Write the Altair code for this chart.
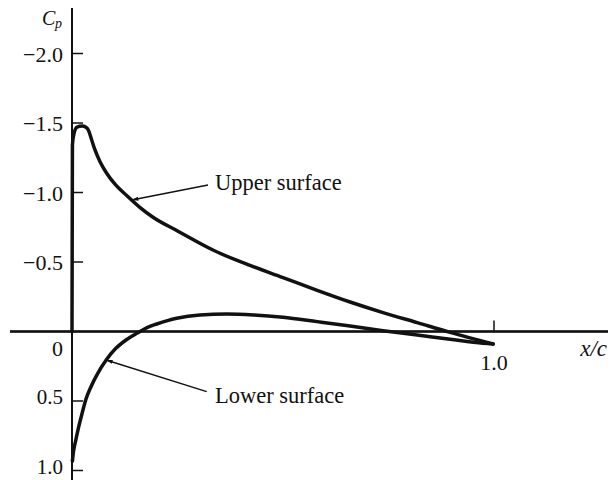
import math
import altair as alt
import pandas as pd

# ---- data ----
upper_x = [0.000, 0.001, 0.005, 0.012, 0.024, 0.033, 0.0386, 0.0467, 0.0545, 0.0664,
           0.0822, 0.1019, 0.1296, 0.160, 0.192, 0.249, 0.334, 0.422, 0.500, 0.581,
           0.659, 0.737, 0.818, 0.896, 0.998]
upper_cp = [0.000, -1.342, -1.428, -1.471, -1.478, -1.470, -1.450, -1.378, -1.306, -1.222,
            -1.139, -1.060, -0.978, -0.895, -0.822, -0.725, -0.586, -0.475, -0.388, -0.296,
            -0.212, -0.136, -0.064, 0.006, 0.090]

lower_x = [0.001, 0.003, 0.009, 0.016, 0.024, 0.033, 0.045, 0.061, 0.081, 0.104,
           0.128, 0.156, 0.179, 0.201, 0.248, 0.303, 0.367, 0.430, 0.500, 0.581,
           0.659, 0.737, 0.818, 0.896, 0.974, 0.998]
lower_cp = [0.932, 0.876, 0.781, 0.685, 0.588, 0.488, 0.397, 0.301, 0.205, 0.121,
            0.061, 0.009, -0.030, -0.054, -0.095, -0.119, -0.126, -0.119, -0.102, -0.071,
            -0.040, -0.006, 0.025, 0.056, 0.085, 0.090]

y_tick_values = [-2.0, -1.5, -1.0, -0.5, 0.5, 1.0]
y_tick_labels = ["\u22122.0", "\u22121.5", "\u22121.0", "\u22120.5", "0.5", "1.0"]
x_tick_values = [1.0]
x_tick_labels = ["1.0"]

arrow_names = ["Upper surface", "Lower surface"]
arrow_x_start = [0.3223, 0.3192]
arrow_cp_start = [-1.054, 0.433]
arrow_x_tip = [0.1415, 0.0806]
arrow_cp_tip = [-0.946, 0.205]

# ---- layout ----
W, H = 600, 472
X0_PX, PX_X = 64, 422.0      # pixel of x/c = 0 inside the plot, px per unit
Y0_PX, PX_Y = 323.5, 139.0   # pixel of Cp = 0 inside the plot, px per unit
X_DOMAIN = [-X0_PX / PX_X, (W - X0_PX) / PX_X]
Y_DOMAIN = [-Y0_PX / PX_Y, (H - Y0_PX) / PX_Y]
FONT = "Liberation Serif"
INK = "#111111"

xs = alt.Scale(domain=X_DOMAIN, nice=False, zero=False)
ys = alt.Scale(domain=Y_DOMAIN, nice=False, zero=False, reverse=True)

curves = pd.DataFrame({
    "x": upper_x + lower_x,
    "cp": upper_cp + lower_cp,
    "surface": ["upper"] * len(upper_x) + ["lower"] * len(lower_x),
    "i": list(range(len(upper_x))) + list(range(len(lower_x))),
})

yt = pd.DataFrame({"v": y_tick_values, "lab": y_tick_labels, "x0": 0.0,
                   "x1": 11 / PX_X})
xt = pd.DataFrame({"v": x_tick_values, "lab": x_tick_labels, "y0": 0.0,
                   "y1": -11 / PX_Y})

angles = [math.degrees(math.atan2(PX_Y * (ct - cs), PX_X * (xt_ - xs_))) % 360
          for xs_, cs, xt_, ct in zip(arrow_x_start, arrow_cp_start, arrow_x_tip, arrow_cp_tip)]
arrows = pd.DataFrame({"name": arrow_names, "xs": arrow_x_start, "cs": arrow_cp_start,
                       "xt": arrow_x_tip, "ct": arrow_cp_tip, "ang": angles})

X = lambda f: alt.X(f, type="quantitative", scale=xs, axis=None)
Y = lambda f: alt.Y(f, type="quantitative", scale=ys, axis=None)

# axis lines
yaxis = alt.Chart(yt).mark_rule(color=INK, strokeWidth=1.3).encode(
    x=alt.datum(0, type="quantitative", scale=xs, axis=None),
    y=alt.value(0), y2=alt.value(H))
xaxis = alt.Chart(yt).mark_rule(color=INK, strokeWidth=1.3).encode(
    y=alt.datum(0, type="quantitative", scale=ys, axis=None),
    x=alt.value(2), x2=alt.value(W))

yticks = alt.Chart(yt).mark_rule(color=INK, strokeWidth=1.5).encode(
    x=X("x0"), x2="x1", y=Y("v"))
xticks = alt.Chart(xt).mark_rule(color=INK, strokeWidth=1.5).encode(
    x=X("v"), y=Y("y0"), y2="y1")

ylabels_neg = alt.Chart(yt).transform_filter("datum.v < 0").mark_text(
    font=FONT, fontSize=22, align="right", baseline="middle", dx=-9, dy=1,
    color=INK).encode(x=X("x0"), y=Y("v"), text="lab")
ylabels_pos = alt.Chart(yt).transform_filter("datum.v > 0").mark_text(
    font=FONT, fontSize=21, align="right", baseline="middle", dx=-9, dy=-3,
    color=INK).encode(x=X("x0"), y=Y("v"), text="lab")
xlabels = alt.Chart(xt).mark_text(font=FONT, fontSize=22, align="center",
                                  baseline="middle", dy=31, color=INK).encode(
    x=X("v"), y=Y("y0"), text="lab")
zero_label = alt.Chart(xt).mark_text(font=FONT, fontSize=22, align="right",
                                     baseline="middle", dx=-9, dy=17, color=INK).encode(
    x=alt.datum(0, type="quantitative", scale=xs, axis=None),
    y=alt.datum(0, type="quantitative", scale=ys, axis=None),
    text=alt.value("0"))

lines = alt.Chart(curves).mark_line(color=INK, strokeWidth=3.5, interpolate="monotone",
                                    strokeCap="round", strokeJoin="round").encode(
    x=X("x"), y=Y("cp"), detail="surface", order="i")

arrow_lines = alt.Chart(arrows).mark_rule(color=INK, strokeWidth=1.4).encode(
    x=X("xs"), y=Y("cs"), x2="xt", y2="ct")
arrow_heads = alt.Chart(arrows).mark_point(
    shape="M0,0L-2.2,-0.65L-2.2,0.65Z", filled=True, color=INK, size=36,
    opacity=1, strokeWidth=0).encode(
    x=X("xt"), y=Y("ct"), angle=alt.Angle("ang", type="quantitative", scale=None))

upper_text = alt.Chart(xt).mark_text(font=FONT, fontSize=22.5, align="left",
                                     baseline="alphabetic", color=INK).encode(
    x=alt.value(207), y=alt.value(182), text=alt.value(arrow_names[0]))
lower_text = alt.Chart(xt).mark_text(font=FONT, fontSize=22.5, align="left",
                                     baseline="alphabetic", color=INK).encode(
    x=alt.value(207), y=alt.value(395), text=alt.value(arrow_names[1]))

xtitle = alt.Chart(xt).mark_text(font=FONT, fontSize=23, fontStyle="italic",
                                 align="right", baseline="alphabetic", color=INK).encode(
    x=alt.value(W - 1), y=alt.value(348), text=alt.value("x/c"))
ctitle = alt.Chart(xt).mark_text(font=FONT, fontSize=20, fontStyle="italic",
                                 align="left", baseline="alphabetic", color=INK).encode(
    x=alt.value(34), y=alt.value(17), text=alt.value("C"))
ptitle = alt.Chart(xt).mark_text(font=FONT, fontSize=14, fontStyle="italic",
                                 align="left", baseline="alphabetic", color=INK).encode(
    x=alt.value(47), y=alt.value(20), text=alt.value("p"))

chart = alt.layer(
    yaxis, xaxis, yticks, xticks, ylabels_neg, ylabels_pos, xlabels, zero_label,
    lines, arrow_lines, arrow_heads, upper_text, lower_text, xtitle, ctitle, ptitle
).properties(
    width=W, height=H, padding=0, autosize=alt.AutoSizeParams(type="none"),
    background="white"
).configure_view(stroke=None)

chart.save("out.html", embed_options={"renderer": "svg", "actions": False})
